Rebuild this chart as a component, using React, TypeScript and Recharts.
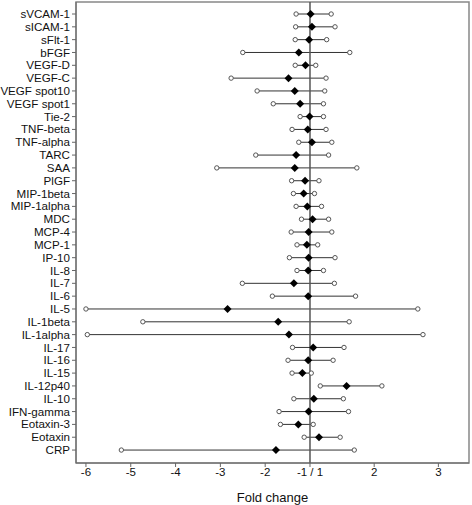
import {
    ComposedChart,
    ReferenceArea,
    ReferenceLine,
    Scatter,
    XAxis,
    YAxis,
} from "recharts";

// marcadores, de arriba hacia abajo
const nombres = [
    "sVCAM-1", "sICAM-1", "sFlt-1", "bFGF", "VEGF-D", "VEGF-C", "VEGF spot10", "VEGF spot1",
    "Tie-2", "TNF-beta", "TNF-alpha", "TARC", "SAA", "PlGF", "MIP-1beta", "MIP-1alpha",
    "MDC", "MCP-4", "MCP-1", "IP-10", "IL-8", "IL-7", "IL-6", "IL-5",
    "IL-1beta", "IL-1alpha", "IL-17", "IL-16", "IL-15", "IL-12p40", "IL-10", "IFN-gamma",
    "Eotaxin-3", "Eotaxin", "CRP",
];

const minimos = [
    -1.31, -1.32, -1.33, -2.5, -1.33, -2.76, -2.18, -1.82,
    -1.22, -1.4, -1.25, -2.21, -3.08, -1.41, -1.37, -1.31,
    -1.19, -1.42, -1.29, -1.46, -1.29, -2.51, -1.84, -6.0,
    -4.73, -5.97, -1.39, -1.49, -1.4, 1.16, -1.36, -1.69,
    -1.66, -1.13, -5.21,
];

const estimados = [
    1.01, 1.03, -1.02, -1.25, -1.1, -1.48, -1.34, -1.22,
    -1.01, -1.05, 1.03, -1.31, -1.34, -1.11, -1.14, -1.06,
    1.04, -1.03, -1.07, -1.03, -1.04, -1.36, -1.04, -2.84,
    -1.71, -1.47, 1.05, -1.04, -1.17, 1.57, 1.06, -1.03,
    -1.26, 1.14, -1.76,
];

const maximos = [
    1.33, 1.39, 1.26, 1.62, 1.09, 1.25, 1.23, 1.21,
    1.21, 1.25, 1.34, 1.29, 1.73, 1.14, 1.07, 1.18,
    1.29, 1.34, 1.12, 1.39, 1.21, 1.38, 1.71, 2.68,
    1.61, 2.76, 1.53, 1.36, 1.02, 2.12, 1.52, 1.6,
    1.05, 1.47, 1.69,
];

const ticksFold = [-6, -5, -4, -3, -2, 1, 2, 3];

// el lado negativo del eje está más comprimido que el positivo
const FACTOR_NEG = 0.698;
function aEje(v: number) {
    return v >= 1 ? v - 1 : FACTOR_NEG * (v + 1);
}

const ticksEje = ticksFold.map(aEje);
const dominioX: [number, number] = [-3.645, 2.477];
const dominioY: [number, number] = [-0.936, nombres.length - 1 + 1.01];

const filas = nombres.map((nombre, i) => ({
    nombre,
    y: i,
    bajo: aEje(minimos[i]),
    est: aEje(estimados[i]),
    alto: aEje(maximos[i]),
}));

const puntosBajos = filas.map((f) => ({ x: f.bajo, y: f.y }));
const puntosAltos = filas.map((f) => ({ x: f.alto, y: f.y }));
const puntosEst = filas.map((f) => ({ x: f.est, y: f.y }));

function etiquetaX(valor: number) {
    const i = ticksEje.findIndex((t) => Math.abs(t - valor) < 1e-6);
    const v = ticksFold[i];
    return v === 1 ? "-1 / 1" : String(v);
}

function Circulo(props: any) {
    const { cx, cy } = props;
    return <circle cx={cx} cy={cy} r={2.2} fill="#fff" stroke="#555" strokeWidth={1} />;
}

function Rombo(props: any) {
    const { cx, cy } = props;
    const r = 4;
    return (
        <path
            d={`M${cx},${cy - r} L${cx + r},${cy} L${cx},${cy + r} L${cx - r},${cy} Z`}
            fill="#000"
        />
    );
}

// tick propio para que los nombres largos no se partan en dos líneas
function TickNombre(props: any) {
    const { x, y, payload } = props;
    return (
        <text x={x} y={y} dy="0.35em" textAnchor="end" fontSize={11.6} fill="#111">
            {nombres[payload.value] ?? ""}
        </text>
    );
}

function TickFold(props: any) {
    const { x, y, payload } = props;
    return (
        <text x={x} y={y} dy="0.71em" textAnchor="middle" fontSize={11.5} fill="#111">
            {etiquetaX(payload.value)}
        </text>
    );
}

const fuente = "'Liberation Sans', Arial, sans-serif";

export default function App() {
    return (
        <div style={{ position: "absolute", left: 0, top: 0, background: "#fff" }}>
            <ComposedChart
                width={472}
                height={505}
                margin={{ top: 2, right: 3, bottom: 0, left: 0 }}
                style={{ fontFamily: fuente }}
            >
                <XAxis
                    type="number"
                    dataKey="x"
                    domain={dominioX}
                    ticks={ticksEje}
                    interval={0}
                    allowDataOverflow
                    height={42}
                    stroke="#666"
                    tickSize={4}
                    tickMargin={1}
                    tick={<TickFold />}
                    label={{
                        value: "Fold change",
                        position: "insideBottom",
                        offset: 3,
                        fill: "#111",
                        fontSize: 13,
                    }}
                />
                <YAxis
                    type="number"
                    dataKey="y"
                    domain={dominioY}
                    reversed
                    ticks={filas.map((f) => f.y)}
                    interval={0}
                    allowDataOverflow
                    width={76}
                    stroke="#666"
                    tickSize={4}
                    tickMargin={2}
                    tick={<TickNombre />}
                />
                <ReferenceArea
                    x1={dominioX[0]}
                    x2={dominioX[1]}
                    y1={dominioY[0]}
                    y2={dominioY[1]}
                    fill="none"
                    stroke="#888"
                    strokeWidth={1.5}
                />
                {filas.map((f) => (
                    <ReferenceLine
                        key={f.nombre}
                        segment={[
                            { x: f.bajo, y: f.y },
                            { x: f.alto, y: f.y },
                        ]}
                        stroke="#333"
                        strokeWidth={1}
                    />
                ))}
                <ReferenceLine x={0} stroke="#555" strokeWidth={1.5} />
                <Scatter data={puntosBajos} shape={<Circulo />} isAnimationActive={false} />
                <Scatter data={puntosAltos} shape={<Circulo />} isAnimationActive={false} />
                <Scatter data={puntosEst} shape={<Rombo />} isAnimationActive={false} />
            </ComposedChart>
        </div>
    );
}
